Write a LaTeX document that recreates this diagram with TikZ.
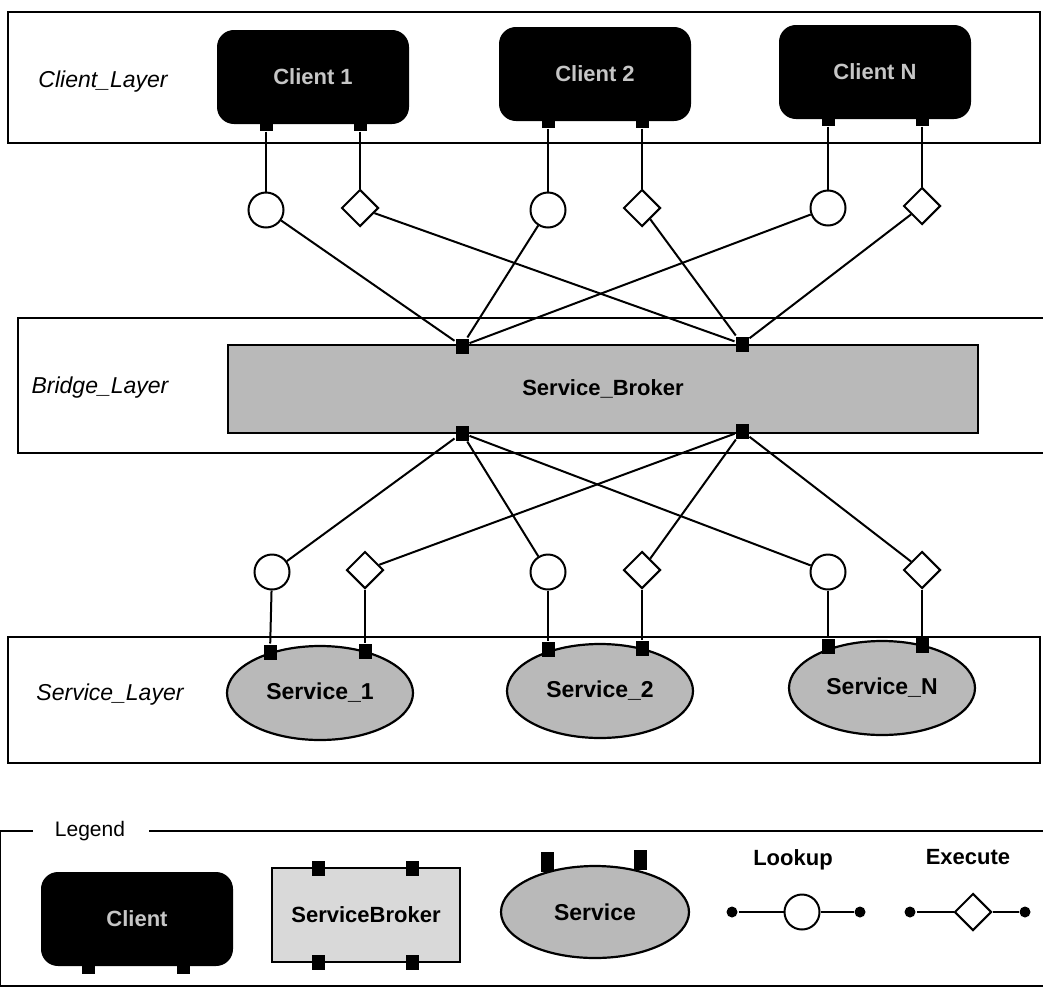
\documentclass[tikz,border=0pt]{standalone}
\usepackage{fontspec}
\setmainfont{Liberation Sans}
\usetikzlibrary{shapes.geometric}
\begin{document}
\begin{tikzpicture}[x=1pt,y=-1pt, line width=2pt,
  layer/.style={draw, line width=2.2pt},
  layerlabel/.style={font=\fontsize{23}{27}\selectfont\itshape},
  clientbox/.style={draw, fill=black, rounded corners=16pt, minimum width=190pt, minimum height=92pt, text=gray!45, font=\fontsize{22}{26}\selectfont\bfseries},
  port/.style={fill=black, draw=none, minimum width=13pt, minimum height=15pt, inner sep=0pt},
  lookup/.style={draw, circle, fill=white, minimum size=35pt, inner sep=0pt},
  execute/.style={draw, diamond, fill=white, minimum size=37pt, inner sep=0pt},
  brokerbox/.style={draw, line width=2.2pt, fill=gray!55, minimum width=750pt, minimum height=88pt, font=\fontsize{22}{26}\selectfont\bfseries},
  servicebox/.style={draw, ellipse, line width=2.2pt, fill=gray!55, minimum width=186pt, minimum height=94pt, inner sep=0pt, font=\fontsize{23}{27}\selectfont\bfseries},
  dotend/.style={circle, fill=black, draw=none, minimum size=11pt, inner sep=0pt},
  legendlabel/.style={font=\fontsize{22}{26}\selectfont\bfseries}
]
\useasboundingbox (0,0) rectangle (1043,988);
\fill[white] (0,0) rectangle (1043,988);

% ---------- layer frames ----------
\draw[layer] (8,12) rectangle (1040,143);
\draw[layer] (18,318) rectangle (1045,453);
\draw[layer] (8,637) rectangle (1040,763);

\node[layerlabel] (lcl) at (103,82) {Client\_Layer};
\node[layerlabel] (lbl) at (100,388) {Bridge\_Layer};
\node[layerlabel] (lsl) at (110,695) {Service\_Layer};

% ---------- clients ----------
\node[clientbox] (c1) at (313,77) {Client 1};
\node[clientbox] (c2) at (595,74) {Client 2};
\node[clientbox] (c3) at (875,72) {Client N};
\node[port] (c1a) at (266,123) {};
\node[port] (c1b) at (360,123) {};
\node[port] (c2a) at (548,120) {};
\node[port] (c2b) at (642,120) {};
\node[port] (c3a) at (828,118) {};
\node[port] (c3b) at (922,118) {};

% ---------- broker ----------
\node[brokerbox] (sb) at (603,389) {Service\_Broker};
\node[port] (bt1) at (462,346) {};
\node[port] (bt2) at (742,344) {};
\node[port] (bb1) at (462,433) {};
\node[port] (bb2) at (742,431) {};

% ---------- upper connectors ----------
\node[lookup]  (l1) at (266,210) {};
\node[execute] (e1) at (360,208) {};
\node[lookup]  (l2) at (548,210) {};
\node[execute] (e2) at (642,208) {};
\node[lookup]  (l3) at (828,208) {};
\node[execute] (e3) at (922,206) {};

\draw (c1a) -- (l1);
\draw (c1b) -- (e1);
\draw (c2a) -- (l2);
\draw (c2b) -- (e2);
\draw (c3a) -- (l3);
\draw (c3b) -- (e3);
\draw (l1) -- (bt1);
\draw (l2) -- (bt1);
\draw (l3) -- (bt1);
\draw (e1) -- (bt2);
\draw (e2) -- (bt2);
\draw (e3) -- (bt2);

% ---------- services ----------
\node[servicebox] (s1) at (320,693) {Service\_1};
\node[servicebox] (s2) at (600,691) {Service\_2};
\node[servicebox] (s3) at (882,688) {Service\_N};
\node[port] (s1a) at (270,652) {};
\node[port] (s1b) at (365,651) {};
\node[port] (s2a) at (548,649) {};
\node[port] (s2b) at (642,648) {};
\node[port] (s3a) at (828,646) {};
\node[port] (s3b) at (922,645) {};

% ---------- lower connectors ----------
\node[lookup]  (sl1) at (272,572) {};
\node[execute] (se1) at (365,570) {};
\node[lookup]  (sl2) at (548,572) {};
\node[execute] (se2) at (642,570) {};
\node[lookup]  (sl3) at (828,572) {};
\node[execute] (se3) at (922,570) {};

\draw (bb1) -- (sl1);
\draw (bb1) -- (sl2);
\draw (bb1) -- (sl3);
\draw (bb2) -- (se1);
\draw (bb2) -- (se2);
\draw (bb2) -- (se3);
\draw (sl1) -- (s1a);
\draw (se1) -- (s1b);
\draw (sl2) -- (s2a);
\draw (se2) -- (s2b);
\draw (sl3) -- (s3a);
\draw (se3) -- (s3b);

% ---------- legend ----------
\node[font=\fontsize{21}{25}\selectfont] (lg) at (90,831) {Legend};
\draw[line width=1.8pt] (lg.west) ++(-18,0) coordinate (lgw) -- (0,831) -- (0,986) -- (1043,986);
\draw[line width=1.8pt] (lg.east) ++(20,0) -- (1043,831);

\node[clientbox] (lc) at (137,919) {Client};
\node[port] (lca) at (88,966) {};
\node[port] (lcb) at (183,966) {};

\node[brokerbox, fill=gray!30, minimum width=188pt, minimum height=94pt] (lsb) at (366,915) {ServiceBroker};
\node[port] (lsba) at (318,868) {};
\node[port] (lsbb) at (412,868) {};
\node[port] (lsbc) at (318,962) {};
\node[port] (lsbd) at (412,962) {};

\node[servicebox, minimum width=188pt, minimum height=92pt] (lsv) at (595,912) {Service};
\node[port, minimum height=20pt] (lsva) at (547,862) {};
\node[port, minimum height=20pt] (lsvb) at (640,860) {};

\node[legendlabel] (llk) at (793,860) {Lookup};
\node[dotend] (lk1) at (732,912) {};
\node[dotend] (lk2) at (860,912) {};
\node[lookup] (lkc) at (802,912) {};
\draw (lk1) -- (lkc) -- (lk2);

\node[legendlabel] (lex) at (968,857) {Execute};
\node[dotend] (ex1) at (910,912) {};
\node[dotend] (ex2) at (1025,912) {};
\node[execute] (exd) at (973,912) {};
\draw (ex1) -- (exd) -- (ex2);
\end{tikzpicture}
\end{document}
